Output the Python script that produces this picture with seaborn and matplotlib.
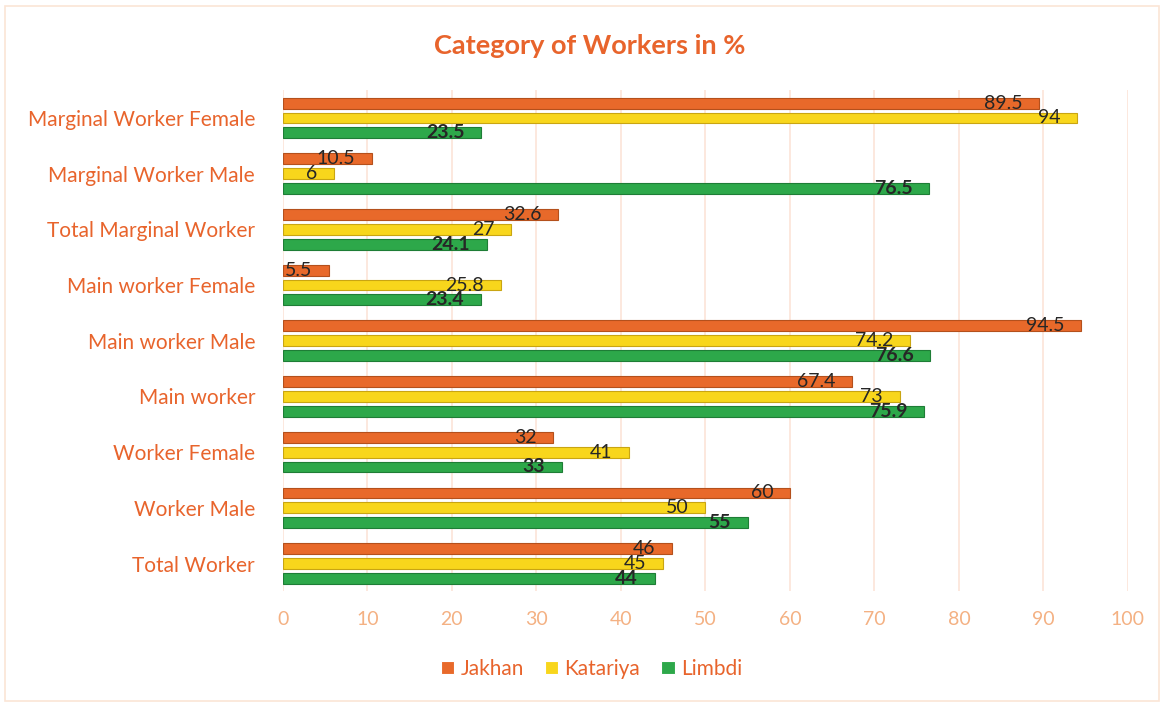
import matplotlib
matplotlib.use("Agg")
import matplotlib.pyplot as plt
import seaborn as sns
import pandas as pd
from matplotlib.patches import Rectangle

categories = ["Marginal Worker Female", "Marginal Worker Male", "Total Marginal Worker",
              "Main worker Female", "Main worker Male", "Main worker",
              "Worker Female", "Worker Male", "Total Worker"]
series = ["Jakhan", "Katariya", "Limbdi"]
jakhan = [89.5, 10.5, 32.6, 5.5, 94.5, 67.4, 32, 60, 46]
katariya = [94, 6, 27, 25.8, 74.2, 73, 41, 50, 45]
limbdi = [23.5, 76.5, 24.1, 23.4, 76.6, 75.9, 33, 55, 44]
xticks = [0, 10, 20, 30, 40, 50, 60, 70, 80, 90, 100]

colors = ["#E8692A", "#F8D61C", "#2DA84A"]
edges = ["#B4501C", "#C9A512", "#1E7D36"]
orange_text = "#E8642C"
light_orange = "#F4B183"

sns.set_theme(style="white")
plt.rcParams['font.family'] = ['Lato', 'DejaVu Sans']

df = pd.DataFrame({
    "Category": categories * 3,
    "Series": [s for s in series for _ in categories],
    "Value": jakhan + katariya + limbdi,
})

fig = plt.figure(figsize=(11.64, 7.04), dpi=100)
fig.patches.append(Rectangle((0.004, 0.004), 0.992, 0.988, transform=fig.transFigure,
                             fill=False, edgecolor="#FBE5D6", linewidth=1.2))
ax = fig.add_axes([0.243, 0.160, 0.726, 0.712])

sns.barplot(data=df, y="Category", x="Value", hue="Series", order=categories,
            hue_order=series, palette=colors, orient="h", width=0.8, gap=0.27,
            saturation=1, ax=ax, legend=True, linewidth=0.8)

for cont, ec in zip(ax.containers, edges):
    for p in cont:
        p.set_edgecolor(ec)
        p.set_zorder(3)

for i, cont in enumerate(ax.containers):
    vals = [jakhan, katariya, limbdi][i]
    labels = [f"{v:g}" for v in vals]
    texts = ax.bar_label(cont, labels=labels, label_type="edge", padding=-12,
                         fontsize=14, color="#262626",
                         fontweight="bold" if i == 2 else "normal", zorder=5)
    for t in texts:
        t.set_ha("right")

ax.set_xlim(0, 100)
ax.set_xticks(xticks)
ax.set_xticklabels([str(v) for v in xticks])
ax.grid(axis="x", color="#FCE4D8", linewidth=1.2, zorder=0)
ax.grid(axis="y", visible=False)
ax.set_axisbelow(True)
for s in ax.spines.values():
    s.set_visible(False)
ax.set_xlabel("")
ax.set_ylabel("")
ax.tick_params(axis="y", length=0, pad=20, labelsize=15, labelcolor=orange_text)
ax.tick_params(axis="x", length=0, pad=14, labelsize=14, labelcolor=light_orange)

leg = ax.legend(loc="center", bbox_to_anchor=(0.508, 0.05), bbox_transform=fig.transFigure,
                ncol=3, frameon=False, fontsize=15, handlelength=0.65, handleheight=0.65,
                handletextpad=0.3, columnspacing=1.0)
for t in leg.get_texts():
    t.set_color(orange_text)

fig.text(0.507, 0.935, "Category of Workers in %", ha="center", va="center",
         fontsize=19.5, fontweight="bold", color=orange_text)

fig.savefig("out.png", dpi=100, facecolor="white")
